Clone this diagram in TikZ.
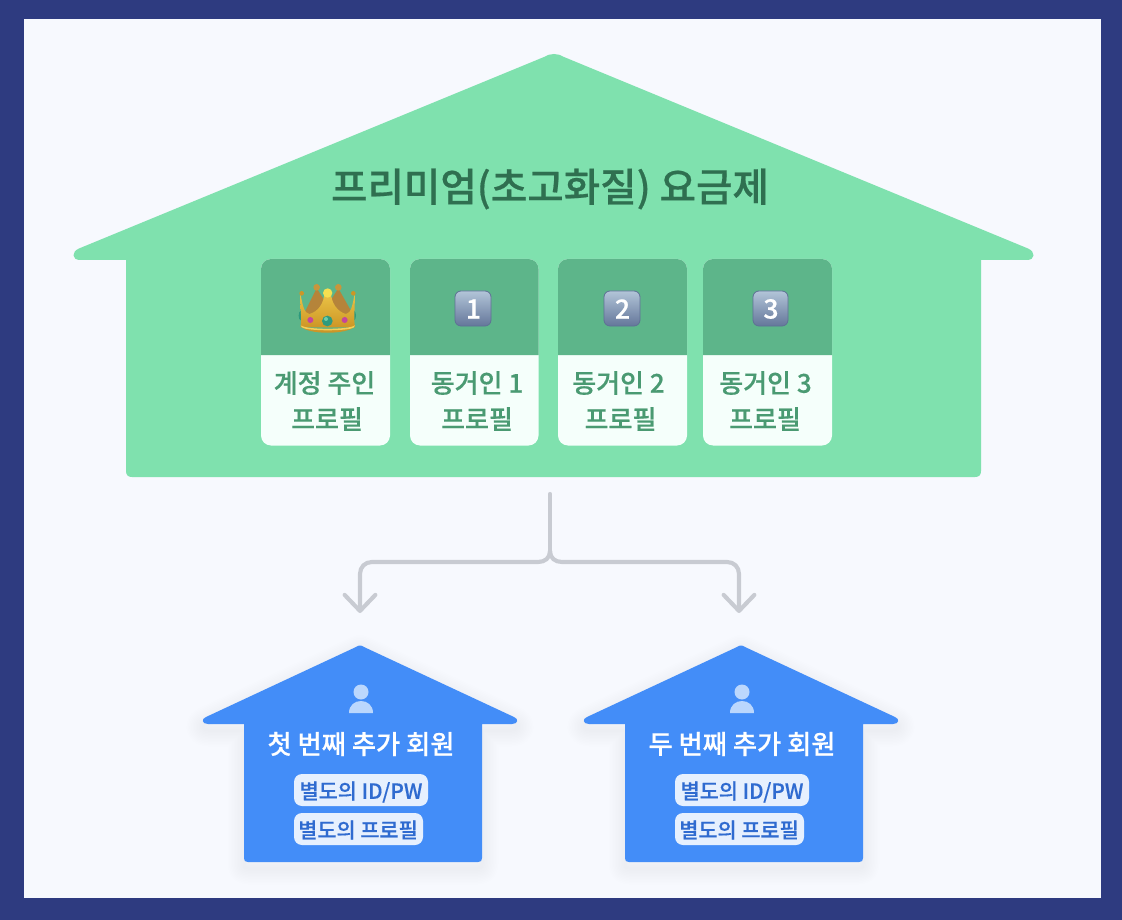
\documentclass[tikz,border=0pt]{standalone}
\usepackage{fontspec}
\setmainfont{Noto Sans CJK KR}[BoldFont={Noto Sans CJK KR Medium},BoldFeatures={FakeBold=0.45}]
\usetikzlibrary{arrows.meta}
\definecolor{navy}{HTML}{2E3B80}
\definecolor{pagebg}{HTML}{F7F9FE}
\definecolor{housegreen}{HTML}{7FE1AE}
\definecolor{headgreen}{HTML}{5DB58A}
\definecolor{cardbg}{HTML}{F5FFFB}
\definecolor{cardtext}{HTML}{4A9A72}
\definecolor{titletext}{HTML}{2F6F50}
\definecolor{houseblue}{HTML}{438DF8}
\definecolor{tagbg}{HTML}{E6F0FE}
\definecolor{tagtext}{HTML}{2F6BD0}
\definecolor{personc}{HTML}{BBD7FD}
\definecolor{connc}{HTML}{C8CBD2}
\definecolor{keytop}{HTML}{B2C5D8}
\definecolor{keybot}{HTML}{64769A}
\definecolor{keyedge}{HTML}{5F7095}
\newcommand{\bluehousepath}{(-152,79) .. controls (-158,79) and (-159,74) .. (-154,72)
  -- (-4,2) .. controls (-1,0) and (1,0) .. (4,2)
  -- (154,72) .. controls (159,74) and (158,79) .. (152,79)
  -- (122,79) -- (122,213) .. controls (122,216) and (121,217) .. (118,217)
  -- (-112,217) .. controls (-115,217) and (-116,216) .. (-116,213)
  -- (-116,79) -- cycle}
\tikzset{
  x=0.75pt, y=-0.75pt,
  conn/.style={draw=connc, line width=3.1pt, line cap=round, line join=round},
  barb/.style={-{Straight Barb[length=12pt,width=23pt,round,line width=3.1pt]}},
  cardtxt/.style={inner sep=0pt, text=cardtext, font=\fontsize{19.5}{22}\selectfont\bfseries},
  tagbox/.style={fill=tagbg, rounded corners=6pt, draw=none, inner sep=0pt},
  tagtxt/.style={inner sep=0pt, text=tagtext, font=\fontsize{15.6}{18}\selectfont\bfseries},
  hometxt/.style={inner sep=0pt, text=white, font=\fontsize{19.7}{22}\selectfont\bfseries},
  keycap/.style={rounded corners=4.5pt, draw=keyedge, line width=0.6pt, top color=keytop, bottom color=keybot},
  keynum/.style={inner sep=0pt, text=white, font=\fontsize{20}{22}\selectfont\bfseries}
}
\newcommand{\bluehouse}[3]{%
  \begin{scope}[shift={(#1,645)}]
    \foreach \w in {3,6,...,33}{\draw[line width=\w*0.75pt, line join=round, draw=black, opacity=0.0035, yshift=-4.5pt] \bluehousepath;}
    \fill[houseblue] \bluehousepath;
    \fill[personc] (1,47) circle[radius=7.5];
    \fill[personc] (-11,68) .. controls (-11,60) and (-5,56) .. (1,56) .. controls (7,56) and (13,60) .. (13,68) -- cycle;
    \node[hometxt] (#2title) at (1,99) {#3};
    \path[tagbox] (-66,129) rectangle (68,161);
    \node[tagtxt] (#2id) at (1,147) {별도의 ID/PW};
    \path[tagbox] (-66,168) rectangle (63,200);
    \node[tagtxt] (#2pro) at (-2,185) {별도의 프로필};
  \end{scope}}
\newcommand{\cardshape}[2]{%
  \fill[cardbg, rounded corners=7.5pt] (#1,259) rectangle (#2,445.5);
  \fill[headgreen] (#1,355) [rounded corners=7.5pt] -- (#1,259) -- (#2,259) [sharp corners] -- (#2,355) -- cycle;}
\begin{document}
\begin{tikzpicture}
\useasboundingbox (0,0) rectangle (1122,920);
\fill[navy] (0,0) rectangle (1122,920);
\fill[pagebg] (24,19) rectangle (1101,898);
% main house
\fill[housegreen] (80,260) .. controls (72,260) and (71,252) .. (79,248.5)
  -- (544,57) .. controls (550,53) and (558,53) .. (564,57)
  -- (1028,248.5) .. controls (1036,252) and (1035,260) .. (1027,260)
  -- (981,260) -- (981,471) .. controls (981,475) and (979,477) .. (975,477)
  -- (132,477) .. controls (128,477) and (126,475) .. (126,471)
  -- (126,260) -- cycle;
\node[inner sep=0pt, text=titletext, font=\fontsize{29.7}{34}\selectfont\bfseries] (title) at (550,189) {프리미엄(초고화질) 요금제};
% cards
\cardshape{261}{390}
\cardshape{410}{538.5}
\cardshape{558}{687}
\cardshape{703}{832}
% crown
\begin{scope}[shift={(250,250)}, x=0.25pt, y=-0.25pt]
  \fill[color={rgb,255:red,181;green,132;blue,58}] (200,115) -- (160,195) -- (310,195) -- (265,115) -- (233,165) -- cycle;
  \fill[color={rgb,255:red,200;green,150;blue,60}] (200,112) circle[radius=10];
  \fill[color={rgb,255:red,200;green,150;blue,60}] (265,112) circle[radius=10];
  \fill[color={rgb,255:red,46;green,154;blue,126}] (152,197) ellipse[x radius=6, y radius=14];
  \fill[color={rgb,255:red,46;green,154;blue,126}] (312,197) ellipse[x radius=6, y radius=14];
  \shade[top color={rgb,255:red,236;green,198;blue,72}, bottom color={rgb,255:red,205;green,150;blue,38}]
    (151,130) .. controls (158,165) and (162,190) .. (178,192) .. controls (205,185) and (222,160) .. (224,125)
    -- (242,125) .. controls (244,160) and (262,185) .. (288,192) .. controls (303,190) and (308,165) .. (314,130)
    .. controls (316,170) and (310,200) .. (315,232) -- (152,232) .. controls (156,200) and (150,170) .. (151,130) -- cycle;
  \fill[color={rgb,255:red,205;green,150;blue,38}] (155,130) circle[radius=7];
  \fill[color={rgb,255:red,205;green,150;blue,38}] (310,130) circle[radius=7];
  \fill[color={rgb,255:red,245;green,224;blue,80}] (233,129) circle[radius=14];
  \fill[color={rgb,255:red,203;green,150;blue,40}] (152,228) .. controls (170,255) and (295,255) .. (315,228) .. controls (295,240) and (170,240) .. cycle;
  \fill[color={rgb,255:red,243;green,208;blue,90}] (152,226) .. controls (170,240) and (295,240) .. (315,226) .. controls (315,235) and (300,240) .. (233,241) .. controls (170,240) and (152,235) .. cycle;
  \fill[color={rgb,255:red,46;green,154;blue,126}] (232,213) circle[radius=16];
  \fill[color={rgb,255:red,110;green,205;blue,170}] (228,207) circle[radius=6];
  \fill[color={rgb,255:red,197;green,69;blue,154}] (181,210) circle[radius=9];
  \fill[color={rgb,255:red,197;green,69;blue,154}] (284,210) circle[radius=9];
\end{scope}
% keycaps
\path[keycap] (455,291) rectangle (491,326);
\node[keynum] (k1) at (473.5,309) {1};
\path[keycap] (604,291) rectangle (640,326);
\node[keynum] (k2) at (622.5,309) {2};
\path[keycap] (753,291) rectangle (788,326);
\node[keynum] (k3) at (771,309) {3};
% card labels
\node[cardtxt] (c1a) at (324.5,383) {계정 주인};
\node[cardtxt] (c1b) at (327,419) {프로필};
\node[cardtxt] (c2a) at (477,383) {동거인 1};
\node[cardtxt] (c2b) at (477,419) {프로필};
\node[cardtxt] (c3a) at (618.5,383) {동거인 2};
\node[cardtxt] (c3b) at (620.5,419) {프로필};
\node[cardtxt] (c4a) at (765.5,383) {동거인 3};
\node[cardtxt] (c4b) at (765,419) {프로필};
% connector
\coordinate (src) at (550,494);
\coordinate (fork) at (550,551);
\coordinate (tipA) at (360,613);
\coordinate (tipB) at (739,613);
\draw[conn] (src) -- (fork);
\draw[conn, barb] (fork) .. controls (550,558) and (545,562) .. (538,562) -- (372,562) .. controls (365,562) and (360,567) .. (360,574) -- (tipA);
\draw[conn, barb] (fork) .. controls (550,558) and (555,562) .. (562,562) -- (727,562) .. controls (734,562) and (739,567) .. (739,574) -- (tipB);
% member houses
\bluehouse{360}{a}{첫 번째 추가 회원}
\bluehouse{741}{b}{두 번째 추가 회원}
\end{tikzpicture}
\end{document}
